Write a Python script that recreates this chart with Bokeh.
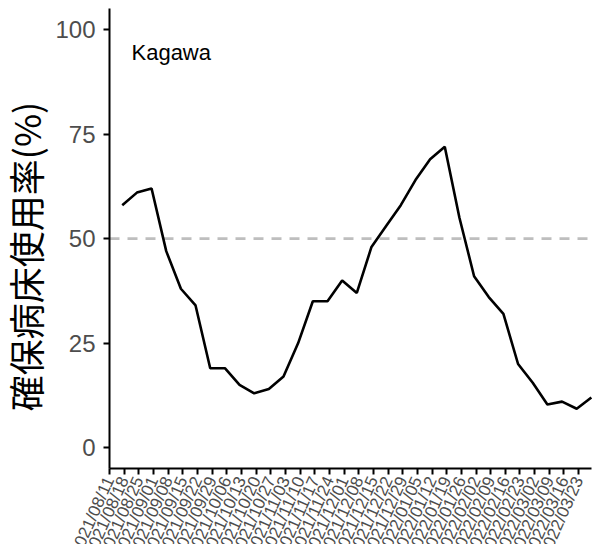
import math
from bokeh.plotting import figure
from bokeh.models import FixedTicker, Label, Range1d
from bokeh.embed import file_html
from bokeh.resources import INLINE

# --- data ---
dates = ["2021/08/11", "2021/08/18", "2021/08/25", "2021/09/01", "2021/09/08",
         "2021/09/15", "2021/09/22", "2021/09/29", "2021/10/06", "2021/10/13",
         "2021/10/20", "2021/10/27", "2021/11/03", "2021/11/10", "2021/11/17",
         "2021/11/24", "2021/12/01", "2021/12/08", "2021/12/15", "2021/12/22",
         "2021/12/29", "2022/01/05", "2022/01/12", "2022/01/19", "2022/01/26",
         "2022/02/02", "2022/02/09", "2022/02/16", "2022/02/23", "2022/03/02",
         "2022/03/09", "2022/03/16", "2022/03/23"]
usage = [58, 61, 62, 47, 38, 34, 19, 19, 15, 13, 14, 17, 25, 35, 35, 40, 37,
         48, 53, 58, 64, 69, 72, 55, 41, 36, 32, 20, 15.5, 10.3, 11, 9.3, 12]
threshold = 50
prefecture = "Kagawa"
y_title = "確保病床使用率(%)"
y_ticks = [0, 25, 50, 75, 100]

tick_pos = list(range(len(dates)))
x_vals = [i + 0.87 for i in tick_pos]

# panel extents (data units) and the whole-canvas view around them
PX0, PX1 = 0, 32.9
PY0, PY1 = -5, 105
W, H = 596, 544
XS = 14.66   # px per week
YS = 4.18    # px per percent
X_START = PX0 - 109 / XS
Y_START = PY0 - (H - 468) / YS
Y_TOP = Y_START + H / YS

p = figure(width=W, height=H, output_backend="svg", toolbar_location=None,
           x_range=Range1d(X_START, X_START + W / XS),
           y_range=Range1d(Y_START, Y_TOP),
           min_border=0, min_border_left=0, min_border_right=0,
           min_border_top=0, min_border_bottom=0)
p.background_fill_color = "white"
p.border_fill_color = "white"
p.outline_line_color = None
p.grid.visible = False

p.line([PX0, PX1], [threshold, threshold], line_color="#BEBEBE",
       line_width=2.6, line_dash="10 8")
p.line(x_vals, usage, line_color="black", line_width=2.6)
p.add_layout(Label(x=1.5, y=94.5, text=prefecture, text_font="Liberation Sans",
                   text_font_size="22px", text_color="black",
                   text_baseline="alphabetic"))

# y axis title (drawn as a label, centred where the original has it)
p.add_layout(Label(x=X_START + 24 / XS, y=Y_TOP - 256 / YS, text=y_title,
                   angle=math.pi / 2, text_align="center", text_baseline="middle",
                   text_font="Noto Sans CJK JP", text_font_size="36px",
                   text_color="black"))

# y axis
ya = p.yaxis[0]
ya.fixed_location = PX0
ya.bounds = (PY0, PY1)
ya.ticker = FixedTicker(ticks=y_ticks)
ya.major_label_text_font = "Liberation Sans"
ya.major_label_text_font_size = "24px"
ya.major_label_text_color = "#4D4D4D"
ya.major_label_standoff = 8
ya.major_tick_out = 6
ya.major_tick_in = 0
ya.minor_tick_line_color = None
ya.axis_line_width = 2
ya.major_tick_line_width = 2

# x axis
xa = p.xaxis[0]
xa.fixed_location = PY0
xa.bounds = (PX0, PX1)
xa.ticker = FixedTicker(ticks=tick_pos)
xa.major_label_overrides = {i: d for i, d in zip(tick_pos, dates)}
xa.major_label_orientation = math.radians(66)
xa.major_label_text_font = "Liberation Sans"
xa.major_label_text_font_size = "17px"
xa.major_label_text_color = "#4D4D4D"
xa.major_label_standoff = 3
xa.major_tick_out = 6
xa.major_tick_in = 0
xa.minor_tick_line_color = None
xa.axis_line_width = 2
xa.major_tick_line_width = 2

open("out.html", "w").write(file_html(p, INLINE))
